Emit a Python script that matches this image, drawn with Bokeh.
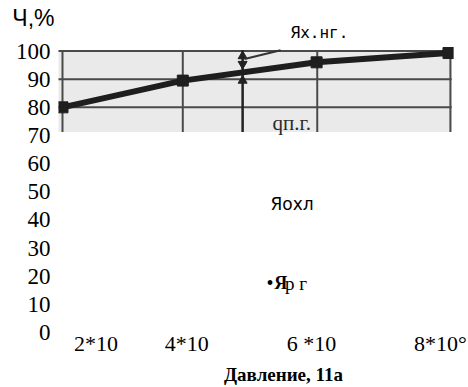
from bokeh.plotting import figure
from bokeh.models import Range1d, FixedTicker, Label, LinearAxis
from bokeh.embed import file_html
from bokeh.resources import INLINE

# ---- data ----
pressure = [2.0, 3.87, 5.95, 8.0]
share = [80.0, 89.5, 96.0, 99.3]

y_ticks = [0, 10, 20, 30, 40, 50, 60, 70, 80, 90, 100]
x_tick_pos = [2.52, 3.93, 5.87, 7.876]
x_tick_labels = ["2*10", "4*10", "6 *10", "8*10\u00b0"]

y_title = "\u0427,%"
y_title_pos = 111.6
x_title = "\u0414\u0430\u0432\u043b\u0435\u043d\u0438\u0435, 11\u0430"
x_title_pos = 5.436

# scanned grid of the inset
scan_x = [1.92, 8.05]
scan_y = [71.2, 100.3]
grid_x = [2.0, 3.87, 5.96, 8.03]
grid_y = [80.0, 90.0, 100.0]

# arrow marking q
arrow_x = [4.80, 4.80]
arrow_y = [71.2, 100.3]
head_up_y = [98.2, 89.5]
head_down_y = [95.4]
leader_x = [4.83, 5.39]
leader_y = [97.2, 100.3]

p = figure(width=468, height=387, output_backend="svg", toolbar_location=None,
           x_range=Range1d(1.938, 8.078), y_range=Range1d(-0.35, 112.28),
           min_border_left=58, min_border_right=15, min_border_top=16, min_border_bottom=50)
p.outline_line_color = None
p.xgrid.visible = False
p.ygrid.visible = False
p.background_fill_color = "white"

# scanned inset background
p.quad(left=[scan_x[0]], right=[scan_x[1]], bottom=[scan_y[0]], top=[scan_y[1]],
       fill_color="#eaeaea", line_color=None)
for gx in grid_x:
    p.line([gx, gx], scan_y, line_color="#4a4a4a", line_width=2)
for gy in grid_y:
    p.line(scan_x, [gy, gy], line_color="#4a4a4a", line_width=2)

# arrow
p.line(arrow_x, arrow_y, line_color="#222222", line_width=2.5)
p.scatter([arrow_x[0]] * len(head_up_y), head_up_y, marker="triangle", size=9,
          color="#222222")
p.scatter([arrow_x[0]] * len(head_down_y), head_down_y, marker="inverted_triangle", size=9,
          color="#222222")
p.line(leader_x, leader_y, line_color="#333333", line_width=2)

# main series
p.line(pressure, share, line_color="#1e1e1e", line_width=6)
p.scatter(pressure, share, marker="square", size=11, color="#1e1e1e")


def plain(axis):
    axis.axis_line_color = None
    axis.major_tick_line_color = None
    axis.minor_tick_line_color = None
    axis.major_tick_out = 0
    axis.major_tick_in = 0
    axis.minor_tick_out = 0
    axis.minor_tick_in = 0
    axis.major_label_text_color = "black"


# axes
yax = p.yaxis[0]
yax.ticker = FixedTicker(ticks=y_ticks)
yax.major_label_text_font = "Liberation Serif"
yax.major_label_text_font_size = "23px"
yax.major_label_standoff = 8
plain(yax)

xax = p.xaxis[0]
xax.ticker = FixedTicker(ticks=x_tick_pos)
xax.major_label_overrides = {pos: lab for pos, lab in zip(x_tick_pos, x_tick_labels)}
xax.major_label_text_font = "Liberation Serif"
xax.major_label_text_font_size = "22px"
xax.major_label_standoff = -3
plain(xax)

# y title written at the top of the value axis
ytitle_ax = LinearAxis(ticker=FixedTicker(ticks=[y_title_pos]),
                       major_label_overrides={y_title_pos: y_title})
ytitle_ax.major_label_text_font = "Liberation Sans"
ytitle_ax.major_label_text_font_size = "23px"
ytitle_ax.major_label_standoff = -42
plain(ytitle_ax)
p.add_layout(ytitle_ax, "left")

# x title under the tick labels
xtitle_ax = LinearAxis(ticker=FixedTicker(ticks=[x_title_pos]),
                       major_label_overrides={x_title_pos: x_title})
xtitle_ax.major_label_text_font = "Liberation Serif"
xtitle_ax.major_label_text_font_size = "19px"
xtitle_ax.major_label_text_font_style = "bold"
xtitle_ax.major_label_standoff = 5
plain(xtitle_ax)
p.add_layout(xtitle_ax, "below")

# texts inside the plot
p.add_layout(Label(x=5.545, y=106.7, text="\u042f\u0445.\u043d\u0433.", text_font="DejaVu Sans Mono",
                   text_font_size="16px", text_baseline="middle", text_align="left",
                   text_color="black"))
p.add_layout(Label(x=5.265, y=74.4, text="q\u043f.\u0433.", text_font="Liberation Serif",
                   text_font_size="21px", text_baseline="middle", text_align="left",
                   text_color="#2a2a2a"))
p.add_layout(Label(x=5.234, y=45.6, text="\u042f\u043e\u0445\u043b", text_font="DejaVu Sans",
                   text_font_size="17px", text_baseline="middle", text_align="left",
                   text_color="black"))
p.add_layout(Label(x=5.17, y=17.5, text="\u2022", text_font="Liberation Serif",
                   text_font_size="20px", text_baseline="middle", text_align="left",
                   text_color="black"))
p.add_layout(Label(x=5.29, y=17.5, text="\u042f", text_font="Liberation Serif",
                   text_font_size="18px", text_font_style="bold", text_baseline="middle",
                   text_align="left", text_color="black"))
p.add_layout(Label(x=5.46, y=17.5, text="\u0440 \u0433", text_font="Liberation Serif",
                   text_font_size="19px", text_baseline="middle", text_align="left",
                   text_color="black"))

open("out.html", "w").write(file_html(p, INLINE))
